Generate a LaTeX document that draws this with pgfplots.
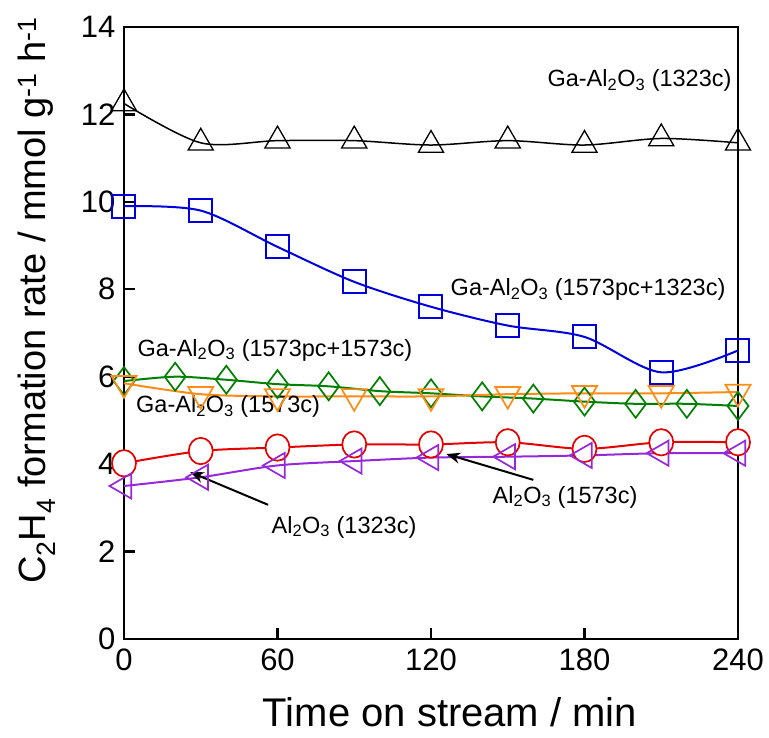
\documentclass[border=0pt]{standalone}
\usepackage{pgfplots}
\pgfplotsset{compat=1.18}
\usepackage{fontspec}
\setmainfont{Liberation Sans}
\usetikzlibrary{arrows.meta}
\definecolor{cblue}{RGB}{0,0,220}
\definecolor{cgreen}{RGB}{0,128,0}
\definecolor{corange}{RGB}{255,140,20}
\definecolor{cred}{RGB}{230,0,0}
\definecolor{cpurple}{RGB}{150,40,220}
\newcommand{\lab}[1]{\fontsize{23.5}{27}\selectfont #1}
\newcommand{\sub}[1]{\textsubscript{#1}}
\begin{document}
\begin{tikzpicture}
\useasboundingbox (-124pt,-99pt) rectangle (645pt,639pt);
\begin{axis}[
  at={(0pt,0pt)}, anchor=south west,
  scale only axis, width=614pt, height=612pt,
  xmin=0, xmax=240, ymin=0, ymax=14,
  xtick={0,60,...,240}, ytick={0,2,...,14},
  tick align=inside, tick pos=left,
  major tick length=11pt,
  axis line style={line width=2.8pt},
  every tick/.style={line width=2.2pt, black},
  /pgf/number format/assume math mode=true,
  yticklabel style={font=\fontsize{31}{35}\selectfont, xshift=-5pt},
  xticklabel style={font=\fontsize{31}{35}\selectfont, yshift=-6pt},
  xlabel={Time on stream / min},
  xlabel style={font=\fontsize{40}{45}\selectfont, at={(axis description cs:0.531,-0.12)}, anchor=center},
  ylabel={C\sub{2}H\sub{4} formation rate / mmol g\textsuperscript{-1} h\textsuperscript{-1}},
  ylabel style={font=\fontsize{38}{43}\selectfont, at={(axis description cs:-0.142,0.553)}, anchor=center},
  clip=false,
]
% Ga-Al2O3 (1323c)
\addplot[black, line width=1.5pt, smooth, mark=triangle, mark size=14.5pt, mark options={fill=white, line width=1.3pt}]
coordinates {(0,12.25) (30,11.35) (60,11.4) (90,11.4) (120,11.3) (150,11.4) (180,11.3) (210,11.45) (240,11.35)};
% Ga-Al2O3 (1573pc+1323c)
\addplot[cblue, line width=2pt, smooth, mark=square, mark size=11.5pt, mark options={fill=white, line width=2pt}]
coordinates {(0,9.9) (30,9.8) (60,8.97) (90,8.17) (120,7.6) (150,7.17) (180,6.91) (210,6.1) (240,6.6)};
% Ga-Al2O3 (1573pc+1573c)
\addplot[cgreen, line width=2pt, smooth, mark=diamond, mark size=14pt, mark options={fill=white, line width=1.7pt}]
coordinates {(0,5.9) (20,6.0) (40,5.93) (60,5.83) (80,5.78) (100,5.67) (120,5.62) (140,5.55) (160,5.5) (180,5.43) (200,5.38) (220,5.38) (240,5.33)};
% Ga-Al2O3 (1573c)
\addplot[corange, line width=2pt, smooth, mark=triangle, mark size=14.5pt, mark options={fill=white, line width=1.7pt, rotate=180}]
coordinates {(0,5.85) (30,5.6) (60,5.55) (90,5.55) (120,5.55) (150,5.6) (180,5.62) (210,5.62) (240,5.65)};
% Al2O3 (1573c)
\addplot[cred, line width=2pt, smooth, mark=*, mark size=12pt, mark options={fill=white, line width=1.7pt, yscale=1.1}]
coordinates {(0,4.02) (30,4.3) (60,4.38) (90,4.45) (120,4.45) (150,4.5) (180,4.35) (210,4.5) (240,4.5)};
% Al2O3 (1323c)
\addplot[cpurple, line width=2pt, smooth, mark=triangle, mark size=14.5pt, mark options={fill=white, line width=1.7pt, rotate=90}]
coordinates {(0,3.5) (30,3.7) (60,3.97) (90,4.07) (120,4.15) (150,4.17) (180,4.2) (210,4.25) (240,4.25)};

\node at (axis cs:201.5,12.78) {\lab{Ga-Al\sub{2}O\sub{3} (1323c)}};
\node at (axis cs:181.4,7.99) {\lab{Ga-Al\sub{2}O\sub{3} (1573pc+1323c)}};
\node at (axis cs:59,6.61) {\lab{Ga-Al\sub{2}O\sub{3} (1573pc+1573c)}};
\node at (axis cs:40.7,5.31) {\lab{Ga-Al\sub{2}O\sub{3} (1573c)}};
\node at (axis cs:172.4,3.25) {\lab{Al\sub{2}O\sub{3} (1573c)}};
\node at (axis cs:86,2.56) {\lab{Al\sub{2}O\sub{3} (1323c)}};
\draw[line width=2pt, -{Stealth[length=14pt,width=11pt]}] (axis cs:160,3.64) -- (axis cs:126,4.23);
\draw[line width=2pt, -{Stealth[length=14pt,width=11pt]}] (axis cs:56.3,3.07) -- (axis cs:25.8,3.82);
\end{axis}
\end{tikzpicture}
\end{document}
